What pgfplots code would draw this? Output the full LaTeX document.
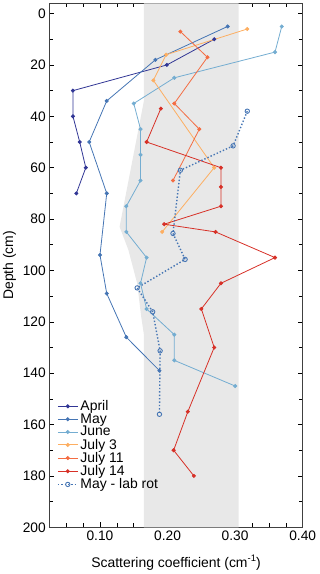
\documentclass[border=0pt]{standalone}
\usepackage{pgfplots}
\pgfplotsset{compat=1.18}
\usepackage{fontspec}
\setmainfont{Liberation Sans}
\definecolor{cApr}{HTML}{313695}
\definecolor{cMay}{HTML}{4575B4}
\definecolor{cJun}{HTML}{74ADD1}
\definecolor{cJ3}{HTML}{FDAE61}
\definecolor{cJ11}{HTML}{F46D43}
\definecolor{cJ14}{HTML}{D73027}
\definecolor{band}{HTML}{E8E8E8}
\begin{document}
\begin{tikzpicture}
\begin{axis}[
  at={(0,0)}, anchor=south west,
  scale only axis, width=253.4bp, height=524bp,
  y dir=reverse,
  xmin=0.025, xmax=0.40, ymin=-4, ymax=200,
  xtick={0.1,0.2,0.3,0.4}, xticklabels={0.10,0.20,0.30,0.40},
  minor xtick={0.05,0.075,0.125,0.15,0.175,0.225,0.25,0.275,0.325,0.35,0.375},
  ytick={0,20,...,200},
  minor ytick={10,30,...,190},
  tick align=inside, tick pos=both,
  major tick length=5bp, minor tick length=4bp,
  every tick/.style={black, line width=0.6pt},
  axis line style={line width=0.6pt, draw=black!75},
  /pgf/number format/assume math mode=true,
  tick label style={font=\fontsize{13.8}{15}\selectfont},
  label style={font=\fontsize{14}{16}\selectfont},
  xlabel={Scattering coefficient (cm\raisebox{0.75ex}{\fontsize{9.5}{10}\selectfont -1})},
  ylabel={Depth (cm)},
  xlabel style={at={(axis description cs:0.5,-0.0674)}, anchor=center},
  ylabel style={at={(axis description cs:-0.157,0.5)}, anchor=center},
  legend style={draw=none, fill=none, font=\fontsize{14}{15}\selectfont,
    at={(axis description cs:0.026,0.248)}, anchor=north west,
    row sep=-2.4bp, inner sep=1pt},
  legend cell align=left,
  legend image code/.code={\draw[#1] (0bp,0bp) -- (20bp,0bp); \draw[#1, only marks] plot coordinates {(10bp,0bp)};},
  every axis plot/.append style={line width=0.8pt},
]
\addplot[fill=band, draw=none, forget plot] coordinates {
(0.165,-4) (0.165,34) (0.129,83) (0.142,92) (0.155,105) (0.161,118) (0.165,125)
(0.165,200) (0.305,200) (0.305,-4)} -- cycle;

\addplot[cApr, mark=*, mark size=1.6pt] coordinates {
(0.269,10) (0.199,20) (0.060,30) (0.060,40) (0.070,50) (0.079,60) (0.065,70)};
\addlegendentry{April}
\addplot[cMay, mark=*, mark size=1.6pt] coordinates {
(0.289,5) (0.182,18) (0.110,34) (0.084,50) (0.110,70) (0.100,94) (0.110,109) (0.139,126) (0.188,139)};
\addlegendentry{May}
\addplot[cJun, mark=*, mark size=1.6pt] coordinates {
(0.369,5) (0.359,15) (0.210,25) (0.150,35) (0.160,45) (0.160,55) (0.160,65) (0.139,75) (0.139,85)
(0.169,95) (0.160,105) (0.169,115) (0.210,125) (0.210,135) (0.300,145)};
\addlegendentry{June}
\addplot[cJ3, mark=*, mark size=1.6pt] coordinates {
(0.318,6) (0.198,16) (0.179,26) (0.269,60) (0.192,85)};
\addlegendentry{July 3}
\addplot[cJ11, mark=*, mark size=1.6pt] coordinates {
(0.219,7) (0.259,17) (0.210,35) (0.247,45) (0.208,65)};
\addlegendentry{July 11}
\addplot[cJ14, mark=*, mark size=1.6pt] coordinates {
(0.190,37) (0.169,50) (0.279,60) (0.279,67.5) (0.279,75) (0.195,82) (0.271,85) (0.359,95)
(0.279,105) (0.250,115) (0.269,130) (0.230,155) (0.209,170) (0.239,180)};
\addlegendentry{July 14}
\addplot[cMay, line width=1.4pt, dotted, mark=o, mark size=2.2pt, mark options={solid, line width=0.9pt}] coordinates {
(0.318,38) (0.297,51.5) (0.219,61) (0.208,85.6) (0.226,95.7) (0.155,106.8) (0.178,116.1) (0.189,131.3) (0.188,156)};
\addlegendentry{May - lab rot}
\end{axis}
\pgfresetboundingbox
\path[use as bounding box] (-49.3bp,-46.7bp) rectangle (270.7bp,527.3bp);
\end{tikzpicture}
\end{document}
